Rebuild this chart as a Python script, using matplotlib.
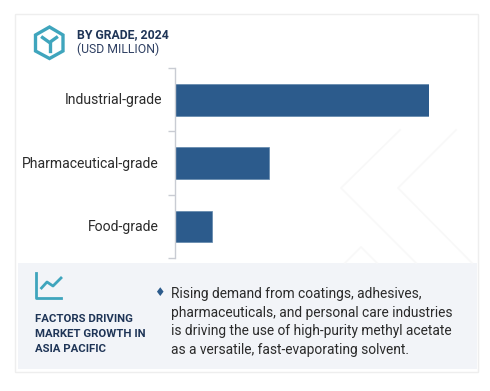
import matplotlib
matplotlib.use("Agg")
import matplotlib.pyplot as plt
from matplotlib.patches import Rectangle, Polygon
from matplotlib.transforms import ScaledTranslation

grades = ["Industrial-grade", "Pharmaceutical-grade", "Food-grade"]
values = [254, 94.5, 37]  # no scale on the chart

title = "BY GRADE, 2024"
subtitle = "(USD MILLION)"
factors = ["FACTORS DRIVING", "MARKET GROWTH IN", "ASIA PACIFIC"]
body = [
    "Rising demand from coatings, adhesives,",
    "pharmaceuticals, and personal care industries",
    "is driving the use of high-purity methyl acetate",
    "as a versatile, fast-evaporating solvent.",
]

W, H = 490, 391
NAVY = "#1f3557"
TEAL = "#3fa5bd"
BAR = "#2c5b8c"
TEXT = "#2b2b2b"

plt.rcParams["font.family"] = ["Roboto", "DejaVu Sans"]
fig = plt.figure(figsize=(W / 100, H / 100), dpi=100, facecolor="white")

# full figure layer in pixel coords for the card, icons and text
bg = fig.add_axes([0, 0, 1, 1])
bg.set_xlim(0, W)
bg.set_ylim(H, 0)
bg.axis("off")

bg.add_patch(Rectangle((15, 14), 463, 358, fc="white", ec="#eeeeee", lw=1))

# faint chevrons behind the chart
for pts in ([(400, 130), (341, 188), (416, 263)],
            [(456, 130), (398, 188), (472, 263)],
            [(345, 263), (361, 247), (377, 263)]):
    bg.plot(*zip(*pts), color="#f8f8f8", lw=1.2)

bg.add_patch(Rectangle((18, 263), 459, 106, fc="#f2f4f8", ec="none"))

# hexagon icon
hexagon = [(49.5, 27), (63, 35), (63, 51), (49.5, 58.5), (35.5, 51), (35.5, 35)]
bg.add_patch(Polygon(hexagon, closed=True, fc="none", ec=TEAL, lw=2.4))
bg.plot([42.5, 49.5, 56.5], [37.5, 42.5, 37.5], color=TEAL, lw=2.4)
bg.plot([49.5, 49.5], [42.5, 51], color=TEAL, lw=2.4)

bg.text(77, 35, title, fontsize=8.8, fontweight="bold", color=NAVY, va="center")
bg.text(77, 49.5, subtitle, fontsize=8.8, color="#2f4063", va="center")

# line chart icon
bg.plot([35.5, 35.5, 60.5], [273, 298, 298], color=TEAL, lw=2)
bg.plot([41.5, 47, 53, 61], [288, 282, 286, 278], color=TEAL, lw=2)

for i, line in enumerate(factors):
    bg.text(34.5, 319 + i * 15.2, line, fontsize=8.2, fontweight="bold", color=NAVY, va="center")

bg.text(159.5, 292.5, "\u2666", fontsize=8.5, color=BAR, ha="center", va="center",
        family=["DejaVu Sans"])
for i, line in enumerate(body):
    bg.text(171, 294 + i * 18.7, line, fontsize=9.9, color=TEXT, va="center")

# bar chart
left, right, top, bottom = 174.5, 429, 68, 258
ax = fig.add_axes([left / W, 1 - bottom / H, (right - left) / W, (bottom - top) / H])
ax.patch.set_alpha(0)
pos = list(range(len(grades)))
ax.barh(pos, values, height=0.5, color=BAR, edgecolor="#5f86ab", linewidth=0.5)
ax.set_xlim(0, 254)
ax.set_ylim(2.5, -0.5)
ax.set_yticks([-0.5, 0.5, 1.5, 2.5])
ax.set_yticklabels([])
ax.set_yticks(pos, grades, minor=True)
ax.tick_params(axis="y", which="major", length=5, width=1, color="#c9ccd3", direction="out")
ax.tick_params(axis="y", which="minor", length=0, pad=11.5, labelsize=10.05, labelcolor=TEXT)
# the labels are not flush in the original, the first one sits further right
nudges = [4, 0, 0]
for lbl, dx in zip(ax.get_yticklabels(minor=True), nudges):
    lbl.set_transform(lbl.get_transform() + ScaledTranslation(dx / 100, 0.01, fig.dpi_scale_trans))
ax.set_xticks([])
for s in ("top", "right", "bottom"):
    ax.spines[s].set_visible(False)
ax.spines["left"].set_color("#c9ccd3")
ax.spines["left"].set_linewidth(1)

fig.savefig("out.png", dpi=100)
